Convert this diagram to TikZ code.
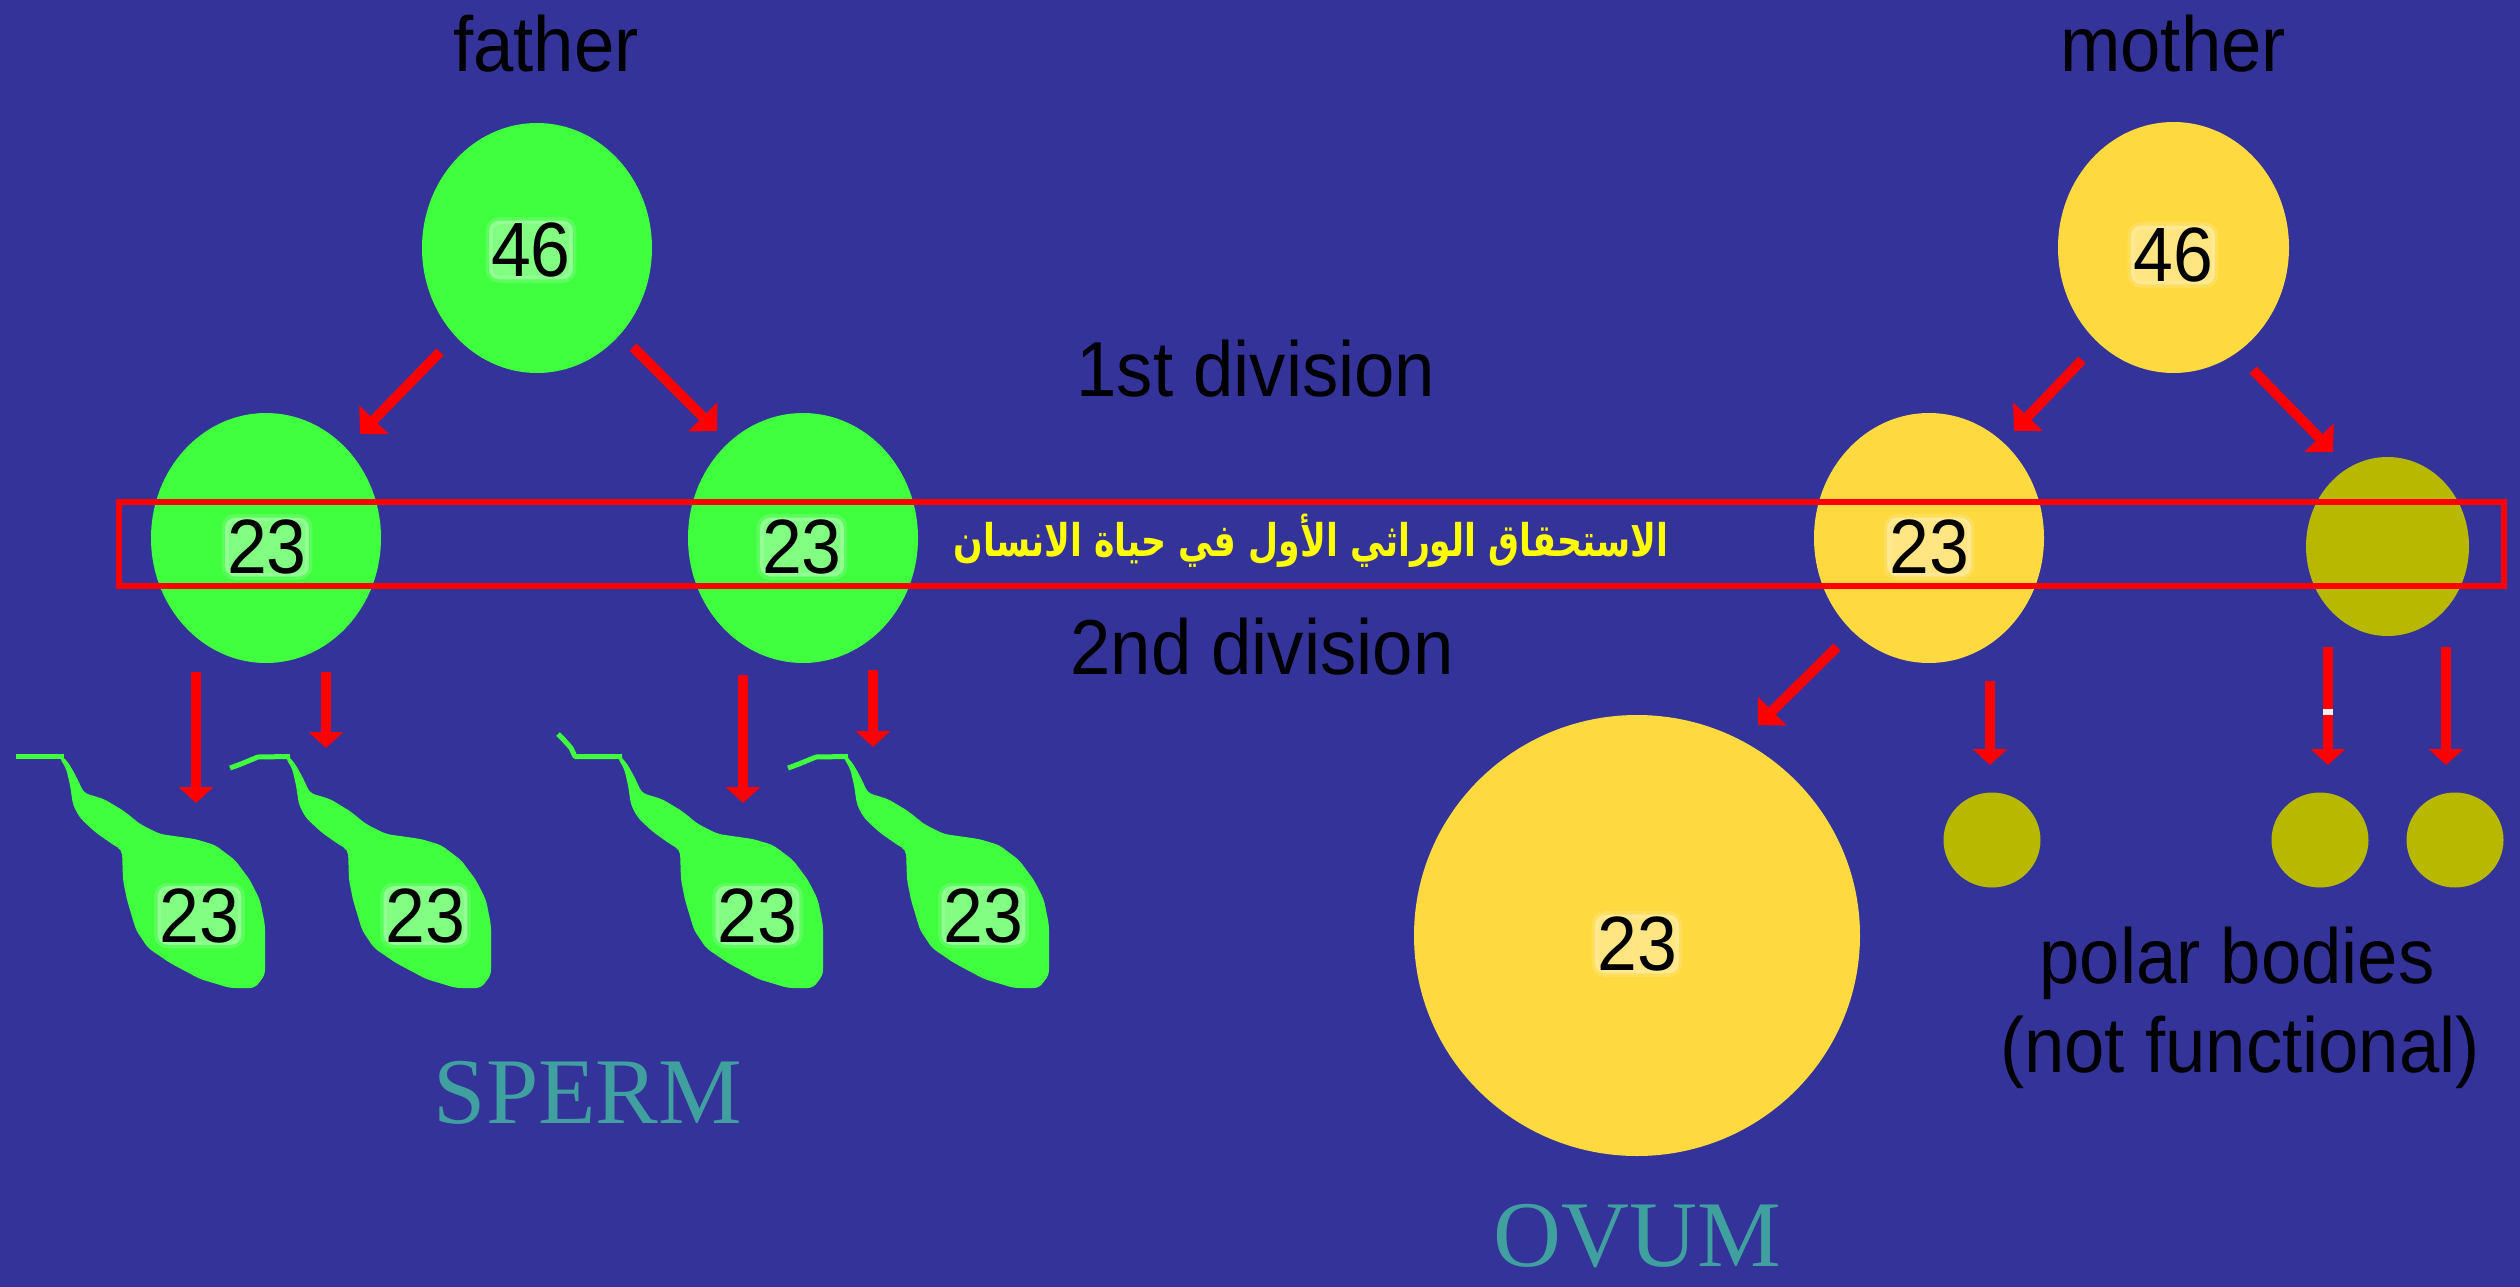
\documentclass[tikz,border=0pt]{standalone}
\usepackage{fontspec}
\usetikzlibrary{arrows.meta,shapes.geometric}
\TeXXeTstate=1
\newfontfamily\lblfont[FakeStretch=0.93]{Liberation Sans}
\newfontfamily\titlefont{Liberation Serif}
\newfontfamily\arabicfont[Script=Arabic, FakeStretch=0.77]{DejaVu Sans}
\definecolor{bg}{HTML}{333399}
\definecolor{cellgreen}{HTML}{3FFF3F}
\definecolor{cellyellow}{HTML}{FFD940}
\definecolor{cellolive}{HTML}{B8B800}
\definecolor{titleteal}{HTML}{40A0A0}
\definecolor{arabyellow}{HTML}{FFFF00}

\tikzset{
  pics/spermhead/.style={code={
    \fill[cellgreen, rounded corners=5pt]
      (60,754) -- (68,762) -- (76,776) -- (84,793) -- (104,799) -- (124,811)
      -- (140,824) -- (160,834) -- (195,839) -- (215,845) -- (235,860)
      -- (250,880) -- (260,900) -- (265,925) -- (265,975) -- (255,988)
      -- (230,988) -- (200,979) -- (170,963) -- (148,948) -- (136,930)
      -- (127,900) -- (123,880) -- (122,850) -- (112,844) -- (95,832)
      -- (80,818) -- (73,805) -- (70,785) -- (66,768) -- (60,759) -- cycle;
  }}
}

\begin{document}
\begin{tikzpicture}[x=1pt,y=-1pt,
  cell/.style={ellipse, draw=none, inner sep=0pt},
  num/.style={font=\lblfont\fontsize{77}{77}\selectfont, text=black,
    fill=white, fill opacity=0.35, text opacity=1, rounded corners=10pt, inner sep=2pt,
    preaction={draw=white, draw opacity=0.15, line width=7pt}},
  lbltext/.style={font=\lblfont\fontsize{78}{80}\selectfont, text=black, anchor=base, inner sep=0pt},
  bigtitle/.style={font=\titlefont\fontsize{94}{94}\selectfont, text=titleteal, anchor=base, inner sep=0pt},
  splitarrow/.style={draw=red, line width=10pt, -{Triangle[length=16pt,width=34pt]}},
  diagarrow/.style={draw=red, line width=10pt, -{Triangle[length=20pt,width=40pt]}},
  tail/.style={draw=cellgreen, line width=5pt, line join=round}
]
% canvas
\fill[bg] (0,0) rectangle (2520,1287);
\useasboundingbox (0,0) rectangle (2520,1287);

% headings
\node[lbltext] (father) at (546,72) {father};
\node[lbltext] (mother) at (2173,72) {mother};
\node[lbltext] (div1) at (1256,396) {1st division};
\node[lbltext] (div2) at (1262,674) {2nd division};

% cells
\node[cell, fill=cellgreen, minimum width=230pt, minimum height=250pt] (f46) at (537,248) {};
\node[cell, fill=cellgreen, minimum width=230pt, minimum height=250pt] (g1) at (266,538) {};
\node[cell, fill=cellgreen, minimum width=230pt, minimum height=250pt] (g2) at (803,538) {};
\node[cell, fill=cellyellow, minimum width=231pt, minimum height=251pt] (m46) at (2173.5,247.5) {};
\node[cell, fill=cellyellow, minimum width=230pt, minimum height=250pt] (y23) at (1929,538) {};
\node[cell, fill=cellolive, minimum width=163pt, minimum height=179pt] (pb0) at (2387.5,546.5) {};
\node[cell, fill=cellyellow, minimum width=446pt, minimum height=441pt] (ov) at (1637,935.5) {};
\node[cell, fill=cellolive, minimum width=97pt, minimum height=95pt] (pb1) at (1992,840) {};
\node[cell, fill=cellolive, minimum width=97pt, minimum height=95pt] (pb2) at (2320,840) {};
\node[cell, fill=cellolive, minimum width=97pt, minimum height=95pt] (pb3) at (2455,840) {};

% band across the first-division cells
\node[draw=red, line width=6pt, minimum width=2385pt, minimum height=84pt, inner sep=0pt] (band) at (1311.5,544) {};
\node[font=\arabicfont\bfseries\fontsize{45}{47}\selectfont, text=arabyellow, anchor=base, inner sep=0pt] (arab) at (1311,556)
  {\beginR الاستحقاق الوراثي الأول في حياة الانسان\endR};

% chromosome counts
\node[num] (f46n) at (531,250) {46};
\node[num] (m46n) at (2173,255) {46};
\node[num] (g1n) at (267,547) {23};
\node[num] (g2n) at (802,547) {23};
\node[num] (y23n) at (1929,547) {23};
\node[num] (ovn) at (1637,944) {23};

% arrow end points
\coordinate (fa1) at (440,352);  \coordinate (fa2) at (360,434);
\coordinate (fb1) at (633,347);  \coordinate (fb2) at (717,431);
\coordinate (ma1) at (2082,360); \coordinate (ma2) at (2014,431);
\coordinate (mb1) at (2253,370); \coordinate (mb2) at (2333,452);
\coordinate (oa1) at (1837,647); \coordinate (oa2) at (1758,725);
\coordinate (sa1) at (196,672);  \coordinate (sa2) at (196,803);
\coordinate (sb1) at (326,672);  \coordinate (sb2) at (326,748);
\coordinate (sc1) at (743,675);  \coordinate (sc2) at (743,803);
\coordinate (sd1) at (873,670);  \coordinate (sd2) at (873,747);
\coordinate (pa1) at (1990,681); \coordinate (pa2) at (1990,765);
\coordinate (pb1a) at (2328,647); \coordinate (pb2a) at (2328,765);
\coordinate (pc1) at (2446,647); \coordinate (pc2) at (2446,765);

% first division
\draw[diagarrow] (fa1) -- (fa2);
\draw[diagarrow] (fb1) -- (fb2);
\draw[diagarrow] (ma1) -- (ma2);
\draw[diagarrow] (mb1) -- (mb2);
% second division
\draw[diagarrow] (oa1) -- (oa2);
\draw[splitarrow] (sa1) -- (sa2);
\draw[splitarrow] (sb1) -- (sb2);
\draw[splitarrow] (sc1) -- (sc2);
\draw[splitarrow] (sd1) -- (sd2);
\draw[splitarrow] (pa1) -- (pa2);
\draw[splitarrow] (pb1a) -- (pb2a);
\draw[splitarrow] (pc1) -- (pc2);
\fill[white!88!gray] (2323,709) rectangle (2333,715);

% sperm cells
\pic at (0,0) {spermhead};
\draw[tail] (16,756.5) -- (64,756.5);
\pic at (226,0) {spermhead};
\draw[tail, shift={(226,0)}] (4,768) -- (15,764) -- (32,757) -- (64,756.5);
\pic at (558,0) {spermhead};
\draw[tail, shift={(558,0)}] (0,734) -- (6,740) -- (13,748) -- (17,756.5) -- (64,756.5);
\pic at (784,0) {spermhead};
\draw[tail, shift={(784,0)}] (4,768) -- (15,764) -- (32,757) -- (64,756.5);
\node[num] (s1) at (199.5,915.5) {23};
\node[num] (s2) at (425.5,915.5) {23};
\node[num] (s3) at (757.5,915.5) {23};
\node[num] (s4) at (983.5,915.5) {23};

% captions
\node[bigtitle] (sperm) at (588,1123) {SPERM};
\node[bigtitle] (ovum) at (1637.5,1266) {OVUM};
\node[lbltext] (polar) at (2237,983) {polar bodies};
\node[lbltext] (nonfunc) at (2240,1072) {(not functional)};
\end{tikzpicture}
\end{document}
